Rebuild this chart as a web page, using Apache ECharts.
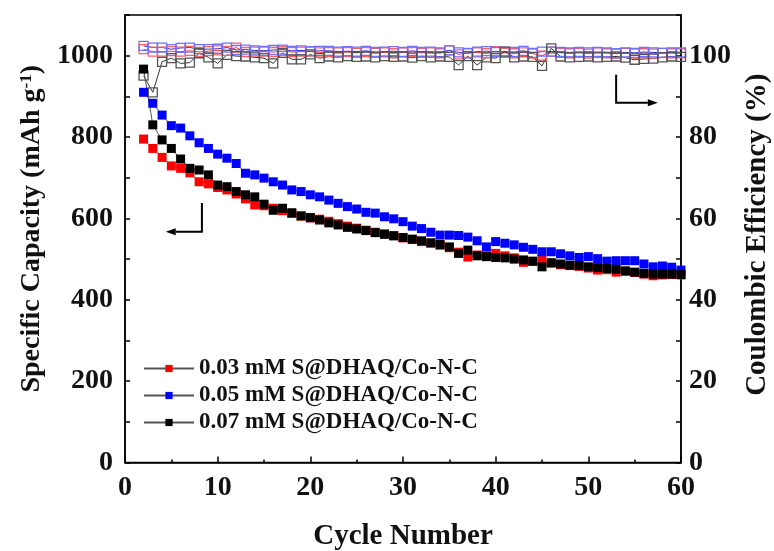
<!DOCTYPE html>
<html>
<head>
<meta charset="utf-8">
<script src="https://cdn.jsdelivr.net/npm/echarts@6/dist/echarts.min.js"></script>
<style>
  html, body { margin: 0; padding: 0; background: #fff; overflow: hidden; }
  #chart { width: 774px; height: 551px; }
</style>
</head>
<body>
<div id="chart"></div>
<script>
// Cycle index (the first recorded cycle is 2)
const cycles = [2,3,4,5,6,7,8,9,10,11,12,13,14,15,16,17,18,19,20,21,22,23,24,25,26,27,28,29,30,31,
  32,33,34,35,36,37,38,39,40,41,42,43,44,45,46,47,48,49,50,51,52,53,54,55,56,57,58,59,60];

// Specific capacity (mAh g-1)
const capacity003 = [795,772,750,729,723,712,690,685,676,670, 660,648,633,631,625,619,612,606,601,598,
  593,587,581,576,571,566,562,558,552,548, 543,539,534,528,517,505,510,508,514,508,
  503,492,494,500,490,486,484,482,478,473, 474,468,470,467,463,459,461,462,461];
const capacity005 = [910,883,854,828,822,803,786,772,758,748, 735,711,707,699,690,682,670,666,658,653,
  645,637,629,623,615,613,604,599,592,581, 575,566,559,559,558,554,545,530,543,539,
  535,529,524,518,518,513,508,504,506,501, 495,496,496,496,488,481,483,480,473];
const capacity007 = [967,830,793,772,746,723,719,707,682,678, 666,658,653,635,620,625,614,606,602,596,
  589,584,578,574,570,565,561,557,553,549, 545,540,536,530,514,522,508,506,504,503,
  500,498,495,481,491,488,485,484,481,479, 477,475,471,468,465,463,463,463,462];

// Coulombic efficiency (%)
const ce003 = [101.6,101.0,101.0,101.1,101.0,101.2,100.9,101.1,101.3,101.2, 102.0,100.9,101.0,101.0,100.9,101.1,100.9,101.0,101.0,100.8,
  100.9,100.8,100.9,100.7,100.9,100.7,100.8,100.6,100.8,100.9, 100.7,100.8,100.6,101.3,100.3,100.7,100.8,100.6,101.1,100.7,
  100.6,100.8,100.5,100.0,101.0,100.7,100.6,100.7,100.5,100.8, 100.6,100.5,100.7,100.5,100.6,100.5,100.7,100.6,100.6];
const ce005 = [102.4,102.0,102.0,101.6,101.9,102.0,101.6,101.6,101.7,102.0, 101.4,101.5,101.3,101.2,101.4,101.5,101.2,101.3,101.1,101.2,
  101.2,101.0,101.1,101.0,101.2,100.9,101.0,101.1,100.9,101.2, 100.9,101.0,100.8,101.3,100.8,100.6,101.0,101.1,100.9,101.0,
  100.9,101.2,100.7,101.0,101.0,100.9,100.8,100.9,100.8,100.9, 100.8,100.6,100.8,100.7,100.9,100.8,100.7,100.8,100.8];
const ce007 = [95.1,91.0,98.5,99.4,98.1,98.3,100.6,99.6,98.1,100.2, 99.9,99.8,99.6,99.4,98.1,100.7,99.1,99.1,100.3,99.4,
  99.8,99.6,99.9,99.7,99.8,99.6,99.9,99.7,99.8,99.5, 99.9,99.6,99.8,99.7,97.7,99.9,97.7,99.6,99.4,101.0,
  99.6,99.8,99.7,97.5,101.8,99.8,99.6,99.7,99.8,99.6, 99.7,99.8,99.5,99.0,99.2,99.3,99.6,99.8,99.7];

const seriesNames = ['0.03 mM S@DHAQ/Co-N-C', '0.05 mM S@DHAQ/Co-N-C', '0.07 mM S@DHAQ/Co-N-C'];
const xTicks = [0, 10, 20, 30, 40, 50, 60];
const leftTicks = [0, 200, 400, 600, 800, 1000];
const rightTicks = [0, 20, 40, 60, 80, 100];

const FONT = '"Liberation Serif", "Times New Roman", serif';
const pair = (vals) => cycles.map((c, i) => [c, vals[i]]);

const chart = echarts.init(document.getElementById('chart'), null, { renderer: 'canvas' });

const labelStyle = { fontFamily: FONT, fontWeight: 'bold', fontSize: 28, color: '#111' };

function capSeries(name, vals, color) {
  return {
    name: name, type: 'line', yAxisIndex: 0, data: pair(vals),
    symbol: 'rect', symbolSize: 9, showSymbol: true,
    lineStyle: { color: '#555', width: 1 },
    itemStyle: { color: color, borderWidth: 0 },
    emphasis: { disabled: true }, animation: false
  };
}
function ceSeries(vals, stroke, line) {
  return {
    name: 'ce', type: 'line', yAxisIndex: 1, data: pair(vals),
    symbol: 'rect', symbolSize: 9, showSymbol: true,
    lineStyle: { color: line, width: 1 },
    itemStyle: { color: 'rgba(255,255,255,0)', borderColor: stroke, borderWidth: 1.3 },
    emphasis: { disabled: true }, animation: false
  };
}

const option = {
  backgroundColor: '#fff',
  animation: false,
  grid: {
    left: 125, right: 93, top: 15, bottom: 88.5,
    outerBoundsMode: 'none', containLabel: false,
    show: true, borderColor: '#000', borderWidth: 1.5, backgroundColor: 'transparent'
  },
  legend: {
    data: seriesNames,
    left: 143, top: 357, orient: 'vertical', padding: 0,
    itemWidth: 50, itemHeight: 9, itemGap: 4,
    textStyle: { fontFamily: FONT, fontWeight: 'bold', fontSize: 23, color: '#111' },
    selectedMode: false
  },
  xAxis: {
    type: 'value', min: 0, max: 60, interval: 10,
    name: 'Cycle Number', nameLocation: 'middle', nameGap: 60,
    nameTextStyle: { fontFamily: FONT, fontWeight: 'bold', fontSize: 29, color: '#111' },
    axisLine: { lineStyle: { color: '#000', width: 1.5 } },
    axisTick: { inside: true, length: 6, lineStyle: { color: '#000', width: 1.5 } },
    minorTick: { show: true, splitNumber: 2, length: 3, lineStyle: { color: '#000', width: 1.5 } },
    axisLabel: Object.assign({ margin: 11, formatter: v => xTicks.includes(v) ? String(v) : '' }, labelStyle),
    splitLine: { show: false }
  },
  yAxis: [
    {
      type: 'value', min: 0, max: 1100, interval: 100, position: 'left',
      name: 'Specific Capacity (mAh g{sup|-1})', nameLocation: 'middle', nameGap: 78, nameRotate: 90,
      nameTextStyle: {
        fontFamily: FONT, fontWeight: 'bold', fontSize: 28, color: '#111', padding: [0, 0, 0, 20],
        rich: { sup: { fontFamily: FONT, fontWeight: 'bold', fontSize: 17, color: '#111', verticalAlign: 'top' } }
      },
      axisLine: { show: true, lineStyle: { color: '#000', width: 1.5 } },
      axisTick: { inside: true, length: 5, lineStyle: { color: '#000', width: 1.5 } },
      axisLabel: Object.assign({ margin: 12, formatter: v => leftTicks.includes(v) ? String(v) : '' }, labelStyle),
      splitLine: { show: false }
    },
    {
      type: 'value', min: 0, max: 110, interval: 10, position: 'right',
      name: 'Coulombic Efficiency (%)', nameLocation: 'middle', nameGap: 62, nameRotate: 90,
      nameTextStyle: { fontFamily: FONT, fontWeight: 'bold', fontSize: 29, color: '#111', padding: [0, 0, 0, 8] },
      axisLine: { show: true, lineStyle: { color: '#000', width: 1.5 } },
      axisTick: { inside: true, length: 5, lineStyle: { color: '#000', width: 1.5 } },
      axisLabel: Object.assign({ margin: 8, formatter: v => rightTicks.includes(v) ? String(v) : '' }, labelStyle),
      splitLine: { show: false }
    }
  ],
  series: [
    ceSeries(ce003, '#ff6060', '#ff3030'),
    ceSeries(ce005, '#7070ff', '#3030c0'),
    ceSeries(ce007, '#555555', '#333333'),
    capSeries(seriesNames[0], capacity003, '#ff0000'),
    capSeries(seriesNames[1], capacity005, '#0000ff'),
    capSeries(seriesNames[2], capacity007, '#000000')
  ]
};
chart.setOption(option);

// Elbow arrows pointing each data family to its axis, anchored in data space
const arrows = [
  { x: 8.3, yTop: 638, yBottom: 567, tip: 4.4, dir: -1 },
  { x: 53.0, yTop: 953, yBottom: 884, tip: 57.5, dir: 1 }
];
const graphics = [];
arrows.forEach(a => {
  const top = chart.convertToPixel({ xAxisIndex: 0, yAxisIndex: 0 }, [a.x, a.yTop]);
  const corner = chart.convertToPixel({ xAxisIndex: 0, yAxisIndex: 0 }, [a.x, a.yBottom]);
  const tip = chart.convertToPixel({ xAxisIndex: 0, yAxisIndex: 0 }, [a.tip, a.yBottom]);
  const headLen = 10;
  const shaftEnd = [tip[0] - a.dir * headLen, tip[1]];
  graphics.push({
    type: 'polyline', silent: true,
    shape: { points: [top, corner, shaftEnd] },
    style: { stroke: '#000', lineWidth: 2, fill: null }
  });
  graphics.push({
    type: 'polygon', silent: true,
    shape: { points: [tip, [tip[0] - a.dir * headLen, tip[1] - 3.5], [tip[0] - a.dir * headLen, tip[1] + 3.5]] },
    style: { fill: '#000' }
  });
});
chart.setOption({ graphic: graphics });
</script>
</body>
</html>
